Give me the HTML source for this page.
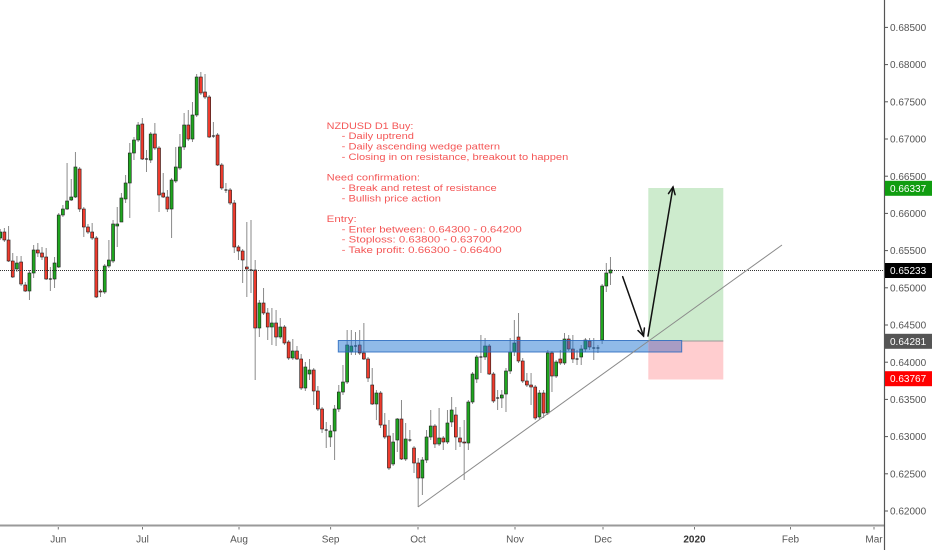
<!DOCTYPE html>
<html>
<head>
<meta charset="utf-8">
<style>
html,body{margin:0;padding:0;background:#fff;}
svg{display:block;}
.ax{font-family:"Liberation Sans",sans-serif;font-size:10px;fill:#555;}
.nt{font-family:"Liberation Sans",sans-serif;font-size:9.5px;fill:#f45656;}
.bd{font-family:"Liberation Sans",sans-serif;font-size:10px;fill:#fff;}
</style>
</head>
<body>
<svg id="s" width="932" height="550" viewBox="0 0 932 550" xmlns="http://www.w3.org/2000/svg">
<rect x="0" y="0" width="932" height="550" fill="#fff"/>
<!-- position tool -->
<rect x="648.3" y="188" width="75" height="153" fill="rgb(205,235,205)"/>
<rect x="648.3" y="341" width="75" height="38.5" fill="rgb(255,205,207)"/>
<line x1="648.3" y1="341" x2="723.3" y2="341" stroke="#999" stroke-width="1"/>
<g id="cd"></g>
<!-- resistance zone -->
<rect x="338.3" y="340.5" width="310" height="11.5" fill="rgba(33,118,210,0.5)"/>
<rect x="648.3" y="340.5" width="33.4" height="11.5" fill="#a89cc4"/>
<rect x="338.3" y="340.5" width="343.4" height="11.5" fill="none" stroke="rgba(40,105,190,0.85)" stroke-width="1"/>
<!-- dotted current price line -->
<line x1="0" y1="270.5" x2="884" y2="270.5" stroke="#333" stroke-width="1" stroke-dasharray="1,1"/>
<!-- trendline -->
<line x1="418" y1="507" x2="782" y2="245" stroke="#8a8a8a" stroke-width="1"/>
<!-- arrows -->
<g stroke="#111" stroke-width="1.5" fill="none" stroke-linecap="round">
<line x1="622.7" y1="276.7" x2="643.5" y2="336"/>
<polyline points="638,330.5 643.5,336 644.4,328"/>
<line x1="648" y1="336" x2="673" y2="187"/>
<polyline points="668.5,193.6 673,187 675.1,194.7"/>
</g>
<!-- note text -->
<text class="nt" x="326.7" y="128.8" textLength="86.7" lengthAdjust="spacingAndGlyphs">NZDUSD D1 Buy:</text>
<text class="nt" x="341.7" y="139.15" textLength="72.3" lengthAdjust="spacingAndGlyphs">- Daily uptrend</text>
<text class="nt" x="341.7" y="149.5" textLength="158.3" lengthAdjust="spacingAndGlyphs">- Daily ascending wedge pattern</text>
<text class="nt" x="341.7" y="159.85" textLength="226.6" lengthAdjust="spacingAndGlyphs">- Closing in on resistance, breakout to happen</text>
<text class="nt" x="326.7" y="180.55" textLength="93.3" lengthAdjust="spacingAndGlyphs">Need confirmation:</text>
<text class="nt" x="341.7" y="190.9" textLength="155" lengthAdjust="spacingAndGlyphs">- Break and retest of resistance</text>
<text class="nt" x="341.7" y="201.25" textLength="99.3" lengthAdjust="spacingAndGlyphs">- Bullish price action</text>
<text class="nt" x="326.7" y="221.95" textLength="30" lengthAdjust="spacingAndGlyphs">Entry:</text>
<text class="nt" x="341.7" y="232.3" textLength="180" lengthAdjust="spacingAndGlyphs">- Enter between: 0.64300 - 0.64200</text>
<text class="nt" x="341.7" y="242.65" textLength="150" lengthAdjust="spacingAndGlyphs">- Stoploss: 0.63800 - 0.63700</text>
<text class="nt" x="341.7" y="253" textLength="160" lengthAdjust="spacingAndGlyphs">- Take profit: 0.66300 - 0.66400</text>
<!-- axes -->
<line x1="0" y1="525.5" x2="884" y2="525.5" stroke="#9a9a9a" stroke-width="2"/>
<line x1="884.5" y1="0" x2="884.5" y2="550" stroke="#555" stroke-width="1.2"/>
<g id="ax"></g>
<g stroke="#777" stroke-width="1">
<line x1="58.3" y1="527" x2="58.3" y2="529.5"/>
<line x1="142.5" y1="527" x2="142.5" y2="529.5"/>
<line x1="239" y1="527" x2="239" y2="529.5"/>
<line x1="330.6" y1="527" x2="330.6" y2="529.5"/>
<line x1="418" y1="527" x2="418" y2="529.5"/>
<line x1="515" y1="527" x2="515" y2="529.5"/>
<line x1="603" y1="527" x2="603" y2="529.5"/>
<line x1="694.5" y1="527" x2="694.5" y2="529.5"/>
<line x1="790.5" y1="527" x2="790.5" y2="529.5"/>
<line x1="874" y1="527" x2="874" y2="529.5"/>
</g>
<g class="ax" text-anchor="middle">
<text x="58.3" y="542.5">Jun</text>
<text x="142.5" y="542.5">Jul</text>
<text x="239" y="542.5">Aug</text>
<text x="330.6" y="542.5">Sep</text>
<text x="418" y="542.5">Oct</text>
<text x="515" y="542.5">Nov</text>
<text x="603" y="542.5">Dec</text>
<text x="694.5" y="542.5" font-weight="bold" style="fill:#333">2020</text>
<text x="790.5" y="542.5">Feb</text>
<text x="874" y="542.5">Mar</text>
</g>
<!-- badges -->
<rect x="885" y="180.8" width="47" height="15" fill="#109d10"/>
<text class="bd" x="890" y="191.8">0.66337</text>
<rect x="885" y="263" width="47" height="15" fill="#000"/>
<text class="bd" x="890" y="274">0.65233</text>
<rect x="885" y="333.8" width="47" height="15" fill="#555"/>
<text class="bd" x="890" y="344.8">0.64281</text>
<rect x="885" y="371.2" width="47" height="15" fill="#ff0000"/>
<text class="bd" x="890" y="382.2">0.63767</text>
</svg>
<script>
(function(){
var d=[[238,232,229,240],[232,240,228,242],[240,261,226,262],[261,277,253,278],[269,263,256,272],[262,284,256,286],[285,291,282,292],[291,273,270,300],[273,250,245,278],[250,253,243,257],
[253,257,247,260],[257,279,248,280],[279,279,267,291],[279,263,257,288],[267,215,213,268],[215,209,205,217],[209,201,163,210],[200,197,179,201],[197,167,152,198],[169,209,167,212],
[209,227,207,237],[227,232,224,234],[232,238,223,240],[238,297,236,298],[291,292,289,297],[292,266,264,294],[266,260,240,268],[261,224,220,263],[226,224,207,247],[222,198,193,218],
[199,183,175,203],[183,153,143,218],[153,140,137,160],[140,125,122,142],[124,159,118,160],[159,159,150,172],[160,134,132,163],[134,148,123,150],[148,195,146,212],[193,197,173,198],
[197,209,190,212],[209,180,178,238],[181,167,147,183],[168,147,134,170],[147,125,113,150],[125,139,110,141],[139,115,102,142],[115,77,74,117],[77,93,72,95],[92,97,74,99],
[97,137,95,138],[136,136,122,138],[135,165,133,166],[165,188,163,190],[190,190,183,193],[190,203,188,205],[203,247,200,253],[247,251,245,260],[251,260,249,283],[267,269,222,297],
[270,270,220,293],[270,328,260,380],[328,303,300,337],[303,313,288,315],[313,327,308,340],[327,323,308,345],[323,337,310,346],[337,327,318,339],[327,343,325,345],[342,358,340,360],
[358,351,339,360],[351,359,346,360],[359,388,354,390],[388,367,362,391],[374,370,359,380],[370,391,368,405],[391,409,386,411],[409,429,407,433],[430,430,422,448],[437,431,425,447],
[431,409,405,460],[409,392,385,412],[392,382,365,395],[382,345,330,384],[352,346,330,355],[346,346,332,355],[345,353,330,355],[353,359,323,360],[359,378,357,382],[385,404,368,405],
[404,393,390,420],[393,425,391,428],[425,437,413,439],[436,468,420,470],[464,442,433,466],[440,419,418,452],[419,459,400,460],[459,439,423,461],[440,440,430,442],[448,463,446,473],
[463,478,458,507],[478,460,457,495],[460,437,430,463],[437,426,410,440],[426,444,424,448],[444,438,408,446],[438,442,436,450],[442,423,410,444],[422,410,397,427],[415,437,407,450],
[438,442,427,447],[442,443,420,480],[443,402,400,450],[402,374,372,404],[379,357,355,383],[357,357,335,373],[357,346,338,360],[346,374,344,375],[374,401,372,403],[398,398,390,410],
[398,395,390,408],[394,371,368,412],[371,352,338,374],[352,343,320,356],[337,361,313,363],[361,381,358,383],[381,385,373,387],[385,387,373,405],[387,418,385,420],[417,393,390,419],
[393,413,390,418],[413,353,350,415],[353,376,351,392],[376,362,360,378],[359,363,350,365],[363,339,333,365],[339,349,335,351],[349,359,335,363],[359,359,350,365],[357,349,345,365],
[349,340,338,352],[341,347,338,350],[348,348,338,360],[348,348,345,353],[340,286,284,344],[286,273,263,292],[273,270,257,285]];
var w='',b='';
for(var i=0;i<d.length;i++){
var x=(i*4.18+0.2).toFixed(2),o=d[i][0],c=d[i][1];
var h=Math.min(d[i][2],o,c),l=Math.max(d[i][3],o,c);
w+='<line x1="'+x+'" x2="'+x+'" y1="'+h+'" y2="'+l+'" stroke="#8a8a8a" stroke-width="1"/>';
if(o===c){
b+='<rect x="'+(x-1.5)+'" y="'+(o-0.6)+'" width="3" height="1.2" fill="#222"/>';
}else{
var col=c<o?'#1fa61f':'#ee3b2d';
var t=Math.min(o,c),hh=Math.abs(o-c);
b+='<rect x="'+(x-1.5)+'" y="'+t+'" width="3" height="'+hh+'" fill="'+col+'" stroke="#1e1e1e" stroke-width="0.6"/>';
}
}
document.getElementById('cd').innerHTML=w+b;
var a='';
for(var k=0;k<=13;k++){
var p=0.62+k*0.005,y=511-(p-0.62)*7440;
a+='<line x1="884.5" x2="888" y1="'+y.toFixed(1)+'" y2="'+y.toFixed(1)+'" stroke="#555" stroke-width="1"/>';
a+='<text class="ax" x="890" y="'+(y+3.6).toFixed(1)+'">'+p.toFixed(5)+'</text>';
}
document.getElementById('ax').innerHTML=a;
})();
</script>
</body>
</html>
